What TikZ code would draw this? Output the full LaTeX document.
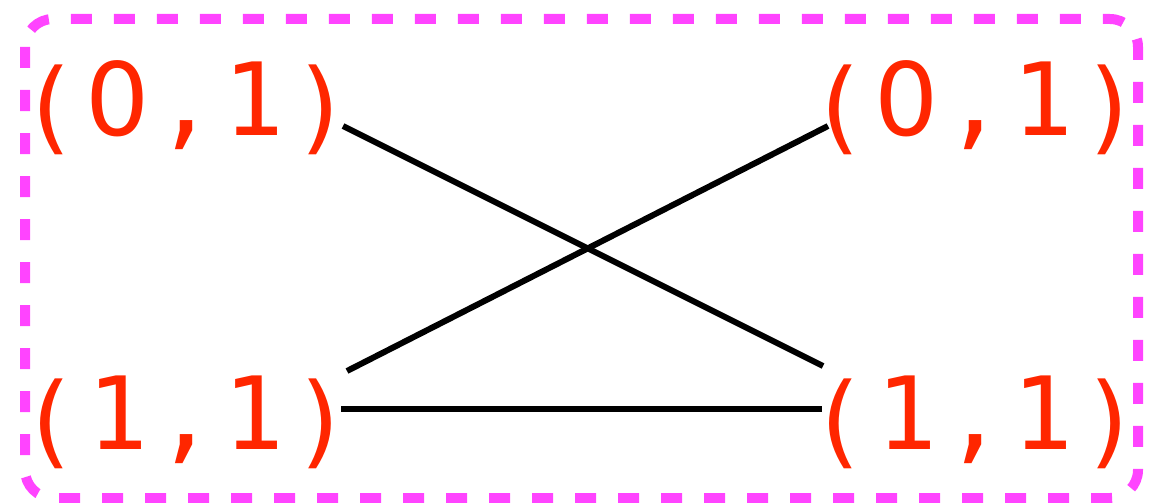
\documentclass[tikz,border=0pt]{standalone}
\usepackage{fontspec}
\newfontfamily\labfont{DejaVu Sans Mono}
\newfontfamily\zerofont{DejaVu Sans}
\definecolor{labred}{HTML}{FF2600}
\definecolor{boxmag}{HTML}{FF44FF}
\newcommand{\zz}{\makebox[60.8pt]{\zerofont 0}}
\newcommand{\gp}{\kern7.2pt}
\newcommand{\lp}{\raisebox{-6pt}{(}}
\newcommand{\rp}{\raisebox{-6pt}{)}}
\tikzset{
  pair/.style={text=labred, font=\labfont\fontsize{101}{101}\selectfont, inner sep=0pt, anchor=base},
  edge/.style={draw=black, line width=6pt},
  frame/.style={draw=boxmag, line width=10pt, dash pattern=on 21pt off 22pt, rounded corners=28pt}
}
\begin{document}
\begin{tikzpicture}[x=1pt,y=-1pt]
\useasboundingbox (0,0) rectangle (1149,503);
\draw[frame] (25,19) rectangle (1138,498);
\node[pair] (tl) at (186,135) {\lp\gp\zz\gp,\gp1\gp\rp};
\node[pair] (tr) at (975,135) {\lp\gp\zz\gp,\gp1\gp\rp};
\node[pair] (bl) at (186,449) {\lp\gp1\gp,\gp1\gp\rp};
\node[pair] (br) at (975,449) {\lp\gp1\gp,\gp1\gp\rp};
\coordinate (tlE) at (343,126);
\coordinate (trW) at (828,126);
\coordinate (blE1) at (347,371);
\coordinate (blE2) at (341,409);
\coordinate (brW1) at (823,366);
\coordinate (brW2) at (822,409);
\draw[edge] (tlE) -- (brW1);
\draw[edge] (blE1) -- (trW);
\draw[edge] (blE2) -- (brW2);
\end{tikzpicture}
\end{document}
